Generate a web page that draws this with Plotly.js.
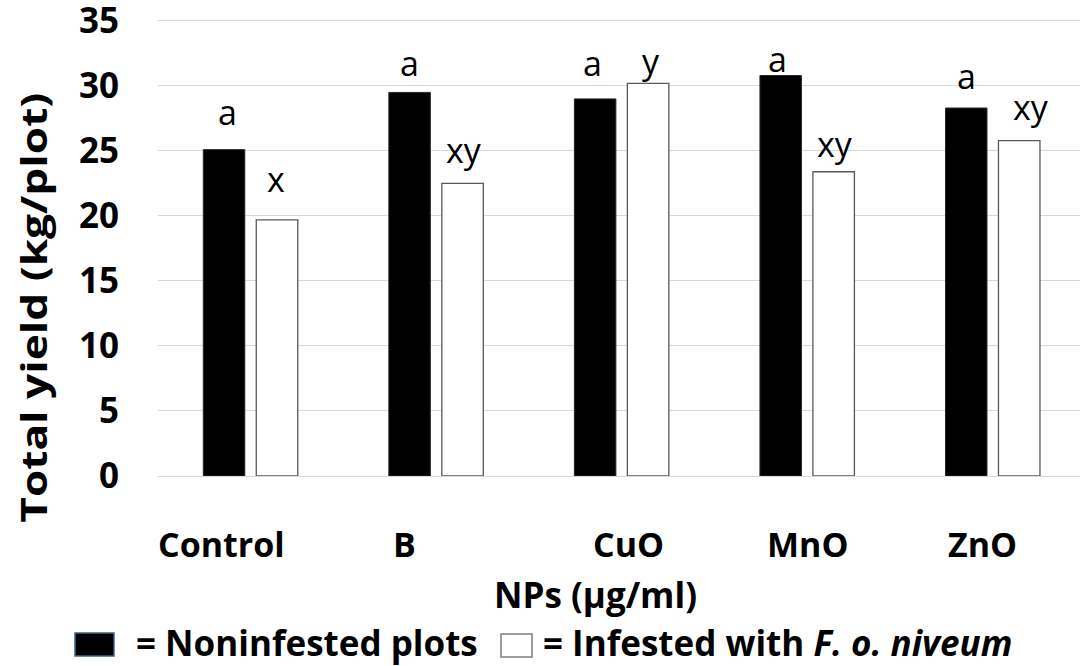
<!DOCTYPE html>
<html>
<head>
<meta charset="utf-8">
<script src="https://cdn.plot.ly/plotly-3.0.1.min.js"></script>
<style>
  html, body { margin: 0; padding: 0; background: #fff; }
  #chart { width: 1080px; height: 666px; }
</style>
</head>
<body>
<div id="chart"></div>
<script>
// Total yield per plot for each nanoparticle treatment
const categories = ['Control', 'B', 'CuO', 'MnO', 'ZnO'];
const noninfested = [25.1, 29.5, 29.0, 30.8, 28.3];
const infested = [19.7, 22.5, 30.2, 23.4, 25.8];
const noninfestedLetters = ['a', 'a', 'a', 'a', 'a'];
const infestedLetters = ['x', 'xy', 'y', 'xy', 'xy'];
const yTickVals = [0, 5, 10, 15, 20, 25, 30, 35];

// Page geometry
const W = 1080, H = 666;
const M = { l: 158, r: 0, t: 17, b: 190 };
const PW = W - M.l - M.r, PH = H - M.t - M.b;
const xRange = [-0.5, 4.469];
const yRange = [0, 35.3];
const pxPerCat = PW / (xRange[1] - xRange[0]);
const px = x => (x - M.l) / PW;            // pixel -> paper x
const py = y => (M.t + PH - y) / PH;        // pixel -> paper y

// Bar placement within each category (category units)
const barWidth = 0.2236;
const offBlack = -0.2559, offWhite = 0.0296;
const centerShift = off => (off + barWidth / 2) * pxPerCat;

// Label spacing above bars (px) and small horizontal nudges (px)
const gapBlack = [37, 28, 35, 16, 31];
const gapWhite = [40, 32, 21, 27, 33];
const nudgeBlack = [3, 0, -3, -3, 0];
const nudgeWhite = [-1, 1, 3, 1, 12];
const catLabelShift = [-29, -32, 7, 0, -10];

const FAMILY = '"Open Sans", Lato, sans-serif';
const boldFont = (size) => ({ family: FAMILY, size: size, color: '#000', weight: 700 });
const regFont = (size) => ({ family: FAMILY, size: size, color: '#000' });

const traces = [
  {
    type: 'bar', name: 'Noninfested plots',
    x: categories, y: noninfested,
    width: barWidth, offset: offBlack,
    marker: { color: '#000000', line: { color: '#262626', width: 1 } },
    hoverinfo: 'x+y'
  },
  {
    type: 'bar', name: 'Infested with F. o. niveum',
    x: categories, y: infested,
    width: barWidth, offset: offWhite,
    marker: { color: '#ffffff', line: { color: '#595959', width: 1.3 } },
    hoverinfo: 'x+y'
  }
];

const annotations = [];

// Significance letters over the bars
categories.forEach((c, i) => {
  annotations.push({
    xref: 'x', yref: 'y', x: c, y: noninfested[i],
    text: noninfestedLetters[i], showarrow: false,
    xanchor: 'center', yanchor: 'middle',
    xshift: centerShift(offBlack) + nudgeBlack[i], yshift: gapBlack[i] + 1,
    font: regFont(34)
  });
  annotations.push({
    xref: 'x', yref: 'y', x: c, y: infested[i],
    text: infestedLetters[i], showarrow: false,
    xanchor: 'center', yanchor: 'middle',
    xshift: centerShift(offWhite) + nudgeWhite[i], yshift: gapWhite[i] + 1,
    font: regFont(34)
  });
  // Category names under the axis
  annotations.push({
    xref: 'x', yref: 'paper', x: c, y: py(544),
    text: c, showarrow: false,
    xanchor: 'center', yanchor: 'middle',
    xshift: catLabelShift[i],
    font: boldFont(34)
  });
});

// Axis titles
annotations.push({
  xref: 'paper', yref: 'paper', x: px(33), y: py(308),
  text: 'Total yield (kg/plot)', textangle: -90, showarrow: false,
  xanchor: 'center', yanchor: 'middle', font: boldFont(35),
  name: 'ytitle'
});
annotations.push({
  xref: 'paper', yref: 'paper', x: px(595), y: py(594),
  text: 'NPs (µg/ml)', showarrow: false,
  xanchor: 'center', yanchor: 'middle', font: boldFont(35)
});

// Key below the chart
annotations.push({
  xref: 'paper', yref: 'paper', x: px(134), y: py(642),
  text: '= Noninfested plots', showarrow: false,
  xanchor: 'left', yanchor: 'middle', font: boldFont(35)
});
annotations.push({
  xref: 'paper', yref: 'paper', x: px(541), y: py(642),
  text: '= Infested with <i>F. o. niveum</i>', showarrow: false,
  xanchor: 'left', yanchor: 'middle', font: boldFont(35)
});

const shapes = [
  {
    type: 'rect', xref: 'paper', yref: 'paper',
    x0: px(75), x1: px(114), y0: py(656), y1: py(633),
    fillcolor: '#000000', line: { color: '#41608a', width: 1.5 }
  },
  {
    type: 'rect', xref: 'paper', yref: 'paper',
    x0: px(501), x1: px(532), y0: py(657), y1: py(634),
    fillcolor: '#ffffff', line: { color: '#7f7f7f', width: 1.5 }
  }
];

const layout = {
  width: W, height: H,
  margin: M,
  paper_bgcolor: '#ffffff', plot_bgcolor: '#ffffff',
  showlegend: false,
  barmode: 'group',
  xaxis: {
    type: 'category', range: xRange,
    showgrid: false, zeroline: false, showline: false,
    showticklabels: false, ticks: ''
  },
  yaxis: {
    range: yRange, tickvals: yTickVals,
    showgrid: true, gridcolor: '#d9d9d9', gridwidth: 1,
    zeroline: true, zerolinecolor: '#d9d9d9', zerolinewidth: 1,
    showline: false, ticks: '',
    ticklabelstandoff: 38,
    ticklabeloverflow: 'allow',
    tickfont: boldFont(35)
  },
  annotations: annotations,
  shapes: shapes
};

Plotly.newPlot('chart', traces, layout, { displayModeBar: false, staticPlot: true })
  .then(gd => {
    // The vertical title runs the full height of the value scale: stretch it to 430 px
    const idx = layout.annotations.findIndex(a => a.name === 'ytitle');
    const txt = gd.querySelector('.annotation[data-index="' + idx + '"] text.annotation-text');
    if (txt) {
      txt.setAttribute('textLength', 430);
      txt.setAttribute('lengthAdjust', 'spacingAndGlyphs');
    }
  });
</script>
</body>
</html>
